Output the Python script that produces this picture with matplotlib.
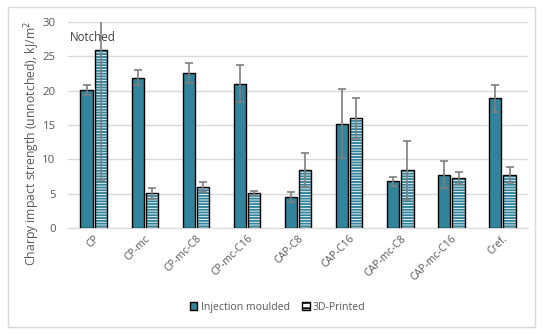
import matplotlib
matplotlib.use("Agg")
import matplotlib.pyplot as plt
import numpy as np
from matplotlib.patches import Rectangle

categories = ["CP", "CP-mc", "CP-mc-C8", "CP-mc-C16", "CAP-C8", "CAP-C16",
              "CAP-mc-C8", "CAP-mc-C16", "Cref."]
injection = [20.1, 21.9, 22.6, 21.0, 4.5, 15.2, 6.8, 7.8, 18.9]
injection_err = [0.7, 1.1, 1.5, 2.7, 0.7, 5.0, 0.6, 2.0, 2.0]
printed = [26.0, 5.1, 6.0, 5.1, 8.5, 16.0, 8.4, 7.3, 7.7]
printed_err = [19.0, 0.8, 0.7, 0.3, 2.5, 3.0, 4.3, 0.9, 1.2]
yticks = [0, 5, 10, 15, 20, 25, 30]

teal = "#31849B"
errc = "#7F7F7F"
plt.rcParams['font.family'] = ['Open Sans', 'DejaVu Sans']
plt.rcParams['hatch.linewidth'] = 1.4
plt.rcParams['hatch.color'] = teal

fig = plt.figure(figsize=(5.5, 3.34), dpi=100)
fig.patches.append(Rectangle((0.015, 0.02), 0.958, 0.96, transform=fig.transFigure,
                             fill=False, edgecolor="#D9D9D9", linewidth=1))
ax = fig.add_axes([0.124, 0.317, 0.836, 0.617])

x = np.arange(len(categories))
w = 0.24
off = 0.14
ax.bar(x - off, injection, w, color=teal, edgecolor="black", linewidth=1, zorder=3)
ax.bar(x + off, printed, w, color="white", edgecolor=teal, hatch="------", linewidth=0, zorder=3)
ax.bar(x + off, printed, w, color="none", edgecolor="black", linewidth=1, zorder=4)
ax.errorbar(x - off, injection, yerr=injection_err, fmt="none", ecolor=errc,
            elinewidth=1.2, capsize=3, capthick=1.2, zorder=5)
ax.errorbar(x + off, printed, yerr=printed_err, fmt="none", ecolor=errc,
            elinewidth=1.2, capsize=3, capthick=1.2, zorder=5)

ax.set_ylim(0, 30)
ax.set_xlim(-0.5, len(categories) - 0.5)
ax.set_yticks(yticks)
ax.yaxis.grid(True, color="#D9D9D9", linewidth=1, zorder=0)
for s in ["top", "right", "left"]:
    ax.spines[s].set_visible(False)
ax.spines["bottom"].set_color("#D9D9D9")
ax.tick_params(axis="both", length=0, colors="#595959", labelsize=7.6)
ax.tick_params(axis="y", labelsize=8.2, pad=9)
ax.set_xticks(x)
ax.set_xticklabels(categories, rotation=45, ha="right", rotation_mode="anchor")
ax.set_ylabel("Charpy impact strength (unnotched), kJ/m$^2$", color="#595959", fontsize=8.8)
ax.yaxis.set_label_coords(-0.058, 0.413)
ax.text(-0.47, 27.2, "Notched", fontsize=8.3, color="#404040", zorder=6)

h1 = Rectangle((0, 0), 1, 1, facecolor=teal, edgecolor="black", linewidth=1)
h2 = Rectangle((0, 0), 1, 1, facecolor="white", edgecolor="black", hatch="---", linewidth=1)
fig.legend([h1, h2], ["Injection moulded", "3D-Printed"], loc="center",
           bbox_to_anchor=(0.505, 0.08), ncol=2, frameon=False, fontsize=7.6,
           handlelength=0.7, handleheight=0.7, handletextpad=0.3, columnspacing=1.2,
           labelcolor="#595959")

fig.savefig("out.png", dpi=100)
